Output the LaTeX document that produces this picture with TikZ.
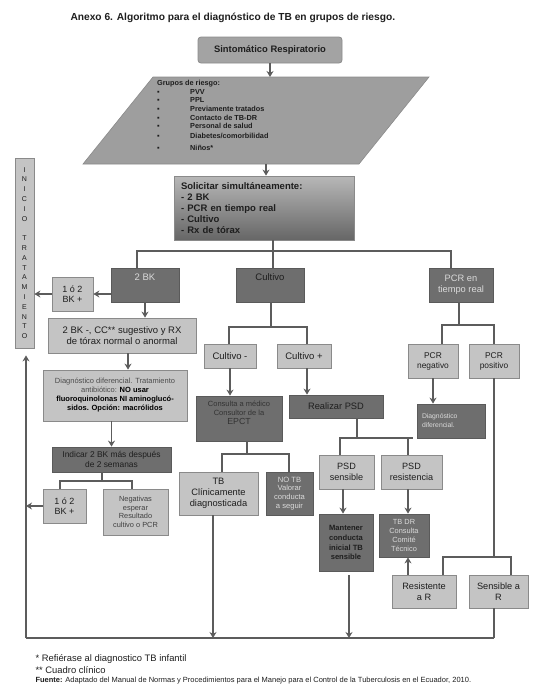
\documentclass[tikz,border=0pt]{standalone}
\usepackage{fontspec}
\setmainfont{Liberation Sans}
\usepackage{xcolor}
\usetikzlibrary{arrows.meta}

\definecolor{linecol}{HTML}{5C5C5C}
\definecolor{darkfill}{HTML}{6E6E6E}
\definecolor{darkdraw}{HTML}{5A5A5A}
\definecolor{lightfill}{HTML}{C4C4C4}
\definecolor{lightdraw}{HTML}{8A8A8A}
\definecolor{midfill}{HTML}{A3A3A3}
\definecolor{parafill}{HTML}{9E9E9E}
\definecolor{lighttext}{HTML}{DADADA}
\definecolor{darktext}{HTML}{1E1E1E}
\newcommand{\setfs}[2]{\fontsize{#1}{#2}\selectfont}

\begin{document}
\begin{tikzpicture}[x=1pt, y=-1pt,
    box/.style={line width=0.8pt, inner sep=1pt, align=center, text=darktext},
    lightbox/.style={box, fill=lightfill, draw=lightdraw},
    darkbox/.style={box, fill=darkfill, draw=darkdraw},
    link/.style={draw=linecol, line width=1.5pt},
    arr/.style={link, -{Stealth[length=6pt, width=7pt]}}]

  \useasboundingbox (0,0) rectangle (540,691);

  % Title
  \node[anchor=west, font=\bfseries\setfs{10.2}{12}, text=darktext] (title) at (67,18)
    {Anexo 6. Algoritmo para el diagnóstico de TB en grupos de riesgo.};

  % Start and risk groups
  \node[box, fill=midfill, draw=lightdraw, rounded corners=3pt, minimum width=144, minimum height=26,
    font=\bfseries\setfs{9.4}{11}] (sr) at (270,50) {Sintomático Respiratorio};
  \filldraw[fill=parafill, draw=lightdraw, line width=0.6pt] (153,77) -- (429,77) -- (359,164) -- (83,164) -- cycle;
  \coordinate (gin) at (268,77);
  \coordinate (gout) at (266,164);
  \node[anchor=north west, align=left, inner sep=2pt, text=darktext, font=\bfseries\setfs{7.3}{8.7}] (grp) at (155,78)
    {Grupos de riesgo:\\
     \makebox[33pt][l]{▪}PVV\\
     \makebox[33pt][l]{▪}PPL\\
     \makebox[33pt][l]{▪}Previamente tratados\\
     \makebox[33pt][l]{▪}Contacto de TB-DR\\
     \makebox[33pt][l]{▪}Personal de salud\\[1pt]
     \makebox[33pt][l]{▪}Diabetes/comorbilidad\\[3pt]
     \makebox[33pt][l]{▪}Niños*};
  \draw[arr] (sr.south) -- (sr.south |- gin);

  % Simultaneous tests
  \node[box, top color=black!28, bottom color=black!60, draw=lightdraw, minimum width=180, minimum height=64,
    text width=166, align=left, font=\bfseries\setfs{9.5}{11.2}] (sol) at (264,208)
    {Solicitar simultáneamente:\\- 2 BK\\- PCR en tiempo real\\- Cultivo\\- Rx de tórax};
  \draw[arr] (gout) -- (gout |- sol.north);

  % Three branches
  \node[darkbox, minimum width=68, minimum height=34, text depth=15pt, text=lighttext, font=\setfs{9.5}{11}] (bk) at (145,285) {2 BK};
  \node[darkbox, minimum width=68, minimum height=34, text depth=15pt, font=\setfs{9.5}{11}] (cul) at (270,285) {Cultivo};
  \node[darkbox, minimum width=64, minimum height=34, text=lighttext, font=\setfs{9.3}{11}] (pcr) at (461,285) {PCR en\\tiempo real};
  \coordinate (jsol) at (273,251);
  \draw[link] (jsol |- sol.south) -- (jsol |- cul.north);
  \draw[link] (137,0 |- bk.north) -- (137,251) -- (451,251) -- (451,0 |- pcr.north);

  % Start of treatment
  \node[lightbox, minimum width=19, minimum height=190, font=\setfs{7}{9.8}] (ini) at (24.5,253)
    {I\\N\\I\\C\\I\\O\\[9.8pt]T\\R\\A\\T\\A\\M\\I\\E\\N\\T\\O};
  \coordinate (bl) at (26,638);
  \coordinate (br) at (494,638);
  \draw[link] (bl) -- (br);
  \draw[arr, shorten >=7pt] (bl) -- (bl |- ini.south);

  % 2 BK branch
  \node[lightbox, minimum width=41, minimum height=34, font=\setfs{9}{10.5}] (bkpos) at (72.5,294) {1 ó 2\\BK +};
  \draw[arr] (bk.west |- bkpos.east) -- (bkpos.east);
  \draw[arr] (bkpos.west) -- (bkpos.west -| ini.east);
  \node[lightbox, minimum width=148, minimum height=35, font=\setfs{9.5}{11}] (bkneg) at (122,335.5)
    {2 BK -, CC** sugestivo y RX\\de tórax normal o anormal};
  \draw[arr] (bk.south) -- (bk.south |- bkneg.north);
  \node[lightbox, minimum width=144, minimum height=51, font=\setfs{7.5}{9}, text=black!70] (dd) at (115,395.5)
    {Diagnóstico diferencial. Tratamiento\\antibiótico: \textcolor{black}{\textbf{NO usar}}\\
     \textcolor{black}{\textbf{fluoroquinolonas NI aminogluc\'o-}}\\\textcolor{black}{\textbf{sidos. Opción: macrólidos}}};
  \draw[arr] (128,0 |- bkneg.south) -- (128,0 |- dd.north);
  \node[darkbox, minimum width=119, minimum height=25, font=\setfs{8.4}{10}] (ind) at (111.5,459.5)
    {Indicar 2 BK más después\\de 2 semanas};
  \draw[arr] (ind.north |- dd.south) -- (ind.north);
  \node[lightbox, minimum width=43, minimum height=34, font=\setfs{9}{10.5}] (bkpos2) at (64.5,506) {1 ó 2\\BK +};
  \node[lightbox, minimum width=65, minimum height=46, font=\setfs{7.4}{8.6}, text=black!75] (negs) at (135.5,512)
    {Negativas\\esperar\\Resultado\\cultivo o PCR};
  \draw[link] (102,0 |- ind.south) -- (102,481);
  \draw[link] (60,0 |- bkpos2.north) -- (60,481) -- (132,481) -- (132,0 |- negs.north);
  \draw[arr] (bkpos2.west) -- (bkpos2.west -| bl);

  % Culture branch
  \node[lightbox, minimum width=52, minimum height=24, font=\setfs{9.5}{11}] (culm) at (230,356) {Cultivo -};
  \node[lightbox, minimum width=54, minimum height=24, font=\setfs{9.5}{11}] (culp) at (304,356) {Cultivo +};
  \draw[link] (271,0 |- cul.south) -- (271,327);
  \draw[link] (229,0 |- culm.north) -- (229,327) -- (307,327) -- (307,0 |- culp.north);
  \node[darkbox, minimum width=86, minimum height=45, font=\setfs{7.5}{9}, text=black!80] (cons) at (239,418.5)
    {Consulta a médico\\Consultor de la\\{\setfs{8.8}{9}EPCT}\\[3pt]};
  \draw[arr] (culm.south) -- (culm.south |- cons.north);
  \node[lightbox, minimum width=79, minimum height=43, font=\setfs{9.3}{10.8}] (tbc) at (218.5,493.5)
    {TB\\Clínicamente\\diagnosticada};
  \node[darkbox, minimum width=47, minimum height=43, font=\setfs{7.6}{8.8}, text=lighttext] (notb) at (289.5,493.5)
    {NO TB\\Valorar\\conducta\\a seguir};
  \draw[link] (247,0 |- cons.south) -- (247,454);
  \draw[link] (222,0 |- tbc.north) -- (222,454) -- (289,454) -- (289,0 |- notb.north);
  \draw[arr] (213,0 |- tbc.south) -- (213,0 |- bl);

  % Susceptibility test
  \node[darkbox, minimum width=94, minimum height=23, font=\setfs{9.3}{11}] (psd) at (336,406.5) {Realizar PSD};
  \draw[arr] (307,0 |- culp.south) -- (307,0 |- psd.north);
  \node[lightbox, minimum width=55, minimum height=34, font=\setfs{9.1}{10.7}] (psds) at (346.5,472) {PSD\\sensible};
  \node[lightbox, minimum width=61, minimum height=34, font=\setfs{9.1}{10.7}] (psdr) at (411.5,472) {PSD\\resistencia};
  \draw[link] (357,0 |- psd.south) -- (357,438);
  \draw[link] (340,0 |- psds.north) -- (340,438) -- (413,438);
  \draw[link] (408,438) -- (408,0 |- psdr.north);
  \node[darkbox, minimum width=54, minimum height=57, font=\bfseries\setfs{7.6}{9.9}] (mant) at (346,542.5)
    {Mantener\\conducta\\inicial TB\\sensible};
  \node[darkbox, minimum width=50, minimum height=43, font=\setfs{7.4}{8.7}, text=lighttext] (tbdr) at (404,535.5)
    {TB DR\\Consulta\\Comité\\Técnico};
  \draw[arr] (343,0 |- psds.south) -- (343,0 |- mant.north);
  \draw[arr] (408,0 |- psdr.south) -- (408,0 |- tbdr.north);
  \draw[arr, shorten <=4pt] (349,0 |- mant.south) -- (349,0 |- bl);

  % PCR branch
  \node[lightbox, minimum width=50, minimum height=34, font=\setfs{8.4}{10}] (pcrn) at (433,361) {PCR\\negativo};
  \node[lightbox, minimum width=50, minimum height=34, font=\setfs{8.4}{10}] (pcrp) at (494,361) {PCR\\positivo};
  \draw[link] (459,0 |- pcr.south) -- (459,325);
  \draw[link] (442,0 |- pcrn.north) -- (442,325) -- (494,325) -- (494,0 |- pcrp.north);
  \node[darkbox, minimum width=68, minimum height=34, text width=58, align=left, font=\setfs{6.8}{9}, text=lighttext] (ddr) at (451,421)
    {Diagnóstico\\diferencial.\\[6pt]};
  \draw[arr] (pcrn.south) -- (pcrn.south |- ddr.north);
  \node[lightbox, minimum width=64, minimum height=33, font=\setfs{9.2}{11}] (res) at (424,591.5) {Resistente\\a R};
  \node[lightbox, minimum width=59, minimum height=33, font=\setfs{9.2}{11}] (sens) at (498.5,591.5) {Sensible a\\R};
  \draw[link] (pcrp.south) -- (494,557);
  \draw[link] (443,0 |- res.north) -- (443,557) -- (511,557) -- (511,0 |- sens.north);
  \draw[arr] (408,0 |- res.north) -- (408,0 |- tbdr.south);
  \draw[link] (494,0 |- sens.south) -- (br);

  % Notes
  \node[anchor=west, font=\setfs{9.4}{11}, text=darktext] (nota) at (32,659.5) {* Refiérase al diagnostico TB infantil};
  \node[anchor=west, font=\setfs{9.4}{11}, text=darktext] (notb2) at (32,670.5) {** Cuadro clínico};
  \node[anchor=west, font=\setfs{7.5}{8}, text=darktext] (fuente) at (32,680.5)
    {\textbf{Fuente:} Adaptado del Manual de Normas y Procedimientos para el Manejo para el Control de la Tuberculosis en el Ecuador, 2010.};
\end{tikzpicture}
\end{document}
